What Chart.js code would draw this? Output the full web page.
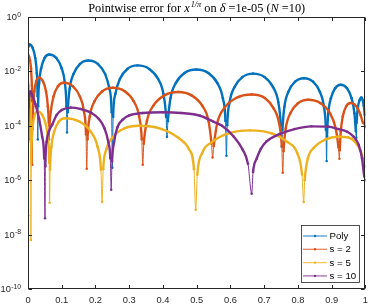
<!DOCTYPE html>
<html><head><meta charset="utf-8">
<script src="https://cdn.jsdelivr.net/npm/chart.js@4.4.1/dist/chart.umd.min.js"></script>
<style>html,body{margin:0;padding:0;background:#fff}#wrap{width:374px;height:306px;position:relative}</style>
</head><body><div id="wrap"><canvas id="c" width="374" height="306"></canvas></div>
<script>
// ---- data (errors stored as log10 values) ----
const seriesLabels = ['Poly', 's = 2', 's = 5', 's = 10'];
const xTickValues = [0, 0.1, 0.2, 0.3, 0.4, 0.5, 0.6, 0.7, 0.8, 0.9, 1];
const yTickValues = [1, 1e-2, 1e-4, 1e-6, 1e-8, 1e-10];

const polyX = [0,0.001,0.004,0.014,0.0215,0.026,0.02825,0.029,
 0.030,0.033,0.039,0.049,0.0625,0.084,0.0997,0.1093,0.1141,0.1157,
 0.1176,0.1233,0.1347,0.1537,0.179,0.2074,0.2287,0.2415,0.2479,0.25,
 0.2522,0.2589,0.2722,0.2944,0.324,0.3592,0.3856,0.4014,0.4094,0.412,
 0.4146,0.4224,0.438,0.4639,0.4985,0.5343,0.5612,0.5773,0.5853,0.588,
 0.5904,0.5975,0.6117,0.6354,0.667,0.701,0.7265,0.7418,0.7494,0.752,
 0.754,0.7599,0.7718,0.7916,0.818,0.8448,0.8649,0.877,0.883,0.885,
 0.8863,0.89,0.8976,0.9102,0.927,0.9454,0.9592,0.9675,0.9716,0.973,
 0.974,0.9775,0.982,0.988,0.992,0.995,0.998,1.0];
const polyLogErr = [-1.20,-1.10,-1.01,-1.14,-1.51,-2.06,-2.91,-4.50,
 -3.28,-2.43,-1.88,-1.51,-1.38,-1.51,-1.88,-2.43,-3.28,-4.25,
 -3.50,-2.65,-2.10,-1.73,-1.60,-1.73,-2.10,-2.65,-3.50,-5.54,
 -3.68,-2.83,-2.28,-1.91,-1.78,-1.91,-2.28,-2.83,-3.68,-4.40,
 -3.83,-2.98,-2.43,-2.06,-1.93,-2.06,-2.43,-2.98,-3.83,-5.10,
 -3.98,-3.13,-2.58,-2.21,-2.08,-2.21,-2.58,-3.13,-3.98,-4.77,
 -4.15,-3.30,-2.75,-2.38,-2.25,-2.38,-2.75,-3.30,-4.15,-5.29,
 -4.39,-3.54,-2.99,-2.62,-2.49,-2.62,-2.99,-3.54,-4.20,-4.44,
 -3.90,-3.35,-3.08,-2.96,-3.05,-3.25,-3.60,-4.03];

const s2X = [0,0.003,0.006,0.009,0.0115,0.0125,0.013,
 0.0136,0.0153,0.0187,0.0244,0.032,0.0442,0.0534,0.0588,0.0616,0.0625,
 0.0638,0.0677,0.0756,0.0886,0.106,0.1332,0.1536,0.1658,0.172,0.174,
 0.1763,0.1832,0.1971,0.2202,0.251,0.2866,0.3133,0.3293,0.3373,0.340,
 0.3432,0.3526,0.3715,0.403,0.445,0.4858,0.5164,0.5348,0.5439,0.547,
 0.5505,0.5609,0.5818,0.6166,0.663,0.7018,0.7274,0.744,0.7522,0.755,
 0.7573,0.764,0.7775,0.8,0.83,0.8672,0.8951,0.9118,0.9202,0.923,
 0.924,0.927,0.9329,0.9428,0.956,0.968,0.978,0.986,0.993,1.0];
const s2LogErr = [-1.38,-1.45,-1.60,-1.90,-2.50,-3.10,-5.43,
 -4.13,-3.28,-2.73,-2.36,-2.23,-2.36,-2.73,-3.28,-3.90,-4.50,
 -4.00,-3.47,-2.92,-2.55,-2.42,-2.55,-2.92,-3.47,-4.32,-5.58,
 -4.50,-3.65,-3.10,-2.73,-2.60,-2.73,-3.10,-3.65,-4.50,-5.43,
 -4.66,-3.81,-3.26,-2.89,-2.76,-2.89,-3.26,-3.81,-4.66,-5.17,
 -4.75,-3.90,-3.35,-2.98,-2.85,-2.98,-3.35,-3.90,-4.75,-5.73,
 -4.94,-4.09,-3.54,-3.17,-3.04,-3.17,-3.54,-4.09,-4.80,-5.21,
 -4.90,-4.21,-3.66,-3.29,-3.16,-3.22,-3.38,-3.62,-3.90,-4.05];

const s5X = [0,0.002,0.004,0.006,0.0075,0.0083,0.0087,
 0.0093,0.011,0.0144,0.020,0.0276,0.0422,0.0531,0.0596,0.0629,0.064,
 0.0654,0.0694,0.0775,0.091,0.109,0.1532,0.1864,0.2062,0.2162,0.2195,
 0.2228,0.2326,0.2524,0.2852,0.329,0.3962,0.4466,0.4768,0.492,0.497,
 0.5018,0.5163,0.5453,0.5936,0.658,0.7226,0.7693,0.7979,0.8122,0.817,
 0.8201,0.8294,0.8479,0.8788,0.92,0.95,0.97,0.985,0.995,1.0];
const s5LogErr = [-2.41,-2.55,-2.80,-3.20,-3.80,-4.60,-8.20,
 -5.37,-4.52,-3.97,-3.60,-3.47,-3.60,-3.97,-4.52,-5.37,-6.83,
 -5.62,-4.77,-4.22,-3.85,-3.72,-3.85,-4.22,-4.77,-5.62,-6.80,
 -5.60,-4.85,-4.40,-4.10,-4.00,-4.12,-4.45,-4.85,-5.60,-7.09,
 -5.80,-5.00,-4.60,-4.28,-4.17,-4.28,-4.60,-5.00,-5.80,-6.80,
 -6.00,-5.20,-4.80,-4.52,-4.40,-4.43,-4.60,-4.90,-5.30,-5.50];

const s10X = [0,0.0005,0.002,0.004,0.007,0.014,0.022,0.033,0.042,0.048,0.0505,
 0.0515,0.055,0.062,0.072,0.085,0.1,0.1265,0.155,0.188,0.21,0.227,0.238,0.244,0.2465,
 0.249,0.255,0.265,0.28,0.30,0.34,0.40,0.455,0.51,0.55,0.575,0.61,0.635,0.652,0.663,
 0.667,0.678,0.69,0.707,0.746,0.79,0.84,0.89,0.92,0.946,0.965,0.98,0.99,0.9965,1.0];
const s10LogErr = [-7.30,-4.50,-3.30,-2.90,-2.74,-2.92,-3.20,-3.75,-4.40,-5.20,-7.40,
 -5.50,-4.60,-4.20,-3.95,-3.60,-3.42,-3.33,-3.38,-3.53,-3.75,-4.10,-4.60,-5.20,-6.35,
 -5.30,-4.60,-4.05,-3.78,-3.62,-3.53,-3.50,-3.53,-3.63,-3.85,-4.00,-4.40,-4.85,-5.40,-6.50,
 -5.70,-5.20,-4.85,-4.57,-4.30,-4.12,-4.02,-4.03,-4.12,-4.22,-4.40,-4.70,-5.20,-5.86,-6.00];

const seriesColors = ['#0072BD', '#D95319', '#EDB120', '#7E2F8E'];

// ---- build datasets ----
const toPoints = (xs, ls) => xs.slice(0, Math.min(xs.length, ls.length)).map((x, i) => ({x: x, y: Math.pow(10, ls[i])}));
const seriesData = [toPoints(polyX, polyLogErr), toPoints(s2X, s2LogErr), toPoints(s5X, s5LogErr), toPoints(s10X, s10LogErr)];

function isDip(data, i) {
  const v = data[i].y, p = data[i - 1], n = data[i + 1];
  return (!p || p.y > v) && (!n || n.y > v);
}

const LW = 2.4;
const datasets = seriesLabels.map((lab, k) => ({
  label: lab,
  data: seriesData[k],
  borderColor: seriesColors[k],
  backgroundColor: seriesColors[k],
  pointBackgroundColor: seriesColors[k],
  pointBorderWidth: 0,
  pointRadius: 1.25,
  pointHoverRadius: 0,
  borderWidth: LW,
  cubicInterpolationMode: 'monotone',
  order: 4 - k,
  segment: {
    borderWidth: c => (isDip(seriesData[k], c.p0DataIndex) || isDip(seriesData[k], c.p1DataIndex)) ? 1 : LW
  }
}));

Chart.defaults.font.family = "'Liberation Sans', Arial, sans-serif";

const decor = {
  id: 'decor',
  afterDraw(chart) {
    const {ctx, chartArea: a, scales: {x, y}} = chart;
    ctx.save();
    const L = Math.round(a.left) + 0.5, R = Math.round(a.right) - 0.5;
    const T = Math.round(a.top) + 0.5, B = Math.round(a.bottom) - 0.5;
    ctx.strokeStyle = '#262626';
    ctx.lineWidth = 1;
    ctx.strokeRect(L, T, R - L, B - T);
    const tl = 3.5;
    ctx.beginPath();
    xTickValues.forEach(v => {
      const px = Math.round(x.getPixelForValue(v)) + 0.5;
      ctx.moveTo(px, B); ctx.lineTo(px, B - tl);
      ctx.moveTo(px, T); ctx.lineTo(px, T + tl);
    });
    yTickValues.forEach(v => {
      const py = Math.round(y.getPixelForValue(v)) + 0.5;
      ctx.moveTo(L, py); ctx.lineTo(L + tl, py);
      ctx.moveTo(R, py); ctx.lineTo(R - tl, py);
    });
    ctx.stroke();

    // y tick labels 10^k
    ctx.fillStyle = '#262626';
    yTickValues.forEach(v => {
      const py = y.getPixelForValue(v);
      const e = String(Math.round(Math.log10(v)));
      ctx.font = "6.8px 'Liberation Sans', Arial, sans-serif";
      const ew = ctx.measureText(e).width;
      const right = 21;
      ctx.textAlign = 'left';
      ctx.textBaseline = 'alphabetic';
      ctx.fillText(e, right - ew, py - 0.5);
      ctx.font = "9.3px 'Liberation Sans', Arial, sans-serif";
      const bw = ctx.measureText('10').width;
      ctx.textBaseline = 'middle';
      ctx.fillText('10', right - ew - bw - 0.3, py + 0.5);
    });

    // title
    const segs = [
      {t: 'Pointwise error for ', s: 'normal'},
      {t: 'x', s: 'italic'},
      {t: '1/\u03c0', s: 'italic', sup: true},
      {t: ' on ', s: 'normal'},
      {t: '\u03b4', s: 'italic'},
      {t: ' =1e-05 (', s: 'normal'},
      {t: 'N', s: 'italic'},
      {t: ' =10)', s: 'normal'}
    ];
    const fs = 12.3, sfs = 8.3;
    const fontOf = sg => `${sg.s === 'italic' ? 'italic ' : ''}${sg.sup ? sfs : fs}px 'Liberation Serif', 'Times New Roman', serif`;
    let tw = 0;
    segs.forEach(sg => { ctx.font = fontOf(sg); sg.w = ctx.measureText(sg.t).width + (sg.sup ? 1 : 0); tw += sg.w; });
    let cx = (a.left + a.right) / 2 - tw / 2;
    const base = 11.8;
    ctx.fillStyle = '#000';
    ctx.textAlign = 'left';
    ctx.textBaseline = 'alphabetic';
    segs.forEach(sg => {
      ctx.font = fontOf(sg);
      ctx.fillText(sg.t, cx + (sg.sup ? 1 : 0), sg.sup ? base - 5 : base);
      cx += sg.w;
    });

    // legend
    const lx0 = 301.5, ly0 = 225.5, lx1 = 359.5, ly1 = 282.5;
    ctx.fillStyle = '#fff';
    ctx.fillRect(lx0, ly0, lx1 - lx0, ly1 - ly0);
    ctx.strokeStyle = '#262626';
    ctx.lineWidth = 0.8;
    ctx.strokeRect(lx0, ly0, lx1 - lx0, ly1 - ly0);
    chart.data.datasets.forEach((ds, k) => {
      const yy = 236 + k * 13.3;
      ctx.strokeStyle = ds.borderColor;
      ctx.globalAlpha = 0.7;
      ctx.lineWidth = 1.3;
      ctx.beginPath(); ctx.moveTo(303, yy); ctx.lineTo(327, yy); ctx.stroke();
      ctx.globalAlpha = 1;
      ctx.fillStyle = ds.borderColor;
      ctx.beginPath(); ctx.arc(315, yy, 1.2, 0, Math.PI * 2); ctx.fill();
      ctx.fillStyle = '#000';
      ctx.font = "9.7px 'Liberation Sans', Arial, sans-serif";
      ctx.textBaseline = 'middle';
      ctx.fillText(ds.label, 329.5, yy + 0.5);
    });
    ctx.restore();
  }
};

new Chart(document.getElementById('c'), {
  type: 'line',
  data: {datasets: datasets},
  options: {
    responsive: false,
    animation: false,
    devicePixelRatio: 1,
    layout: {padding: {left: 28, right: 1, top: 17, bottom: 0}},
    plugins: {legend: {display: false}, tooltip: {enabled: false}, title: {display: false}},
    scales: {
      x: {
        type: 'linear', min: 0, max: 1,
        grid: {display: false, drawTicks: false},
        border: {display: false},
        afterBuildTicks: s => { s.ticks = xTickValues.map(v => ({value: v})); },
        afterFit: s => { s.height = 17; },
        ticks: {
          autoSkip: false, maxRotation: 0, padding: 6, color: '#262626',
          font: {size: 9.3},
          callback: v => String(Number(v.toFixed(1)))
        }
      },
      y: {
        type: 'logarithmic', min: 1e-10, max: 1,
        grid: {display: false, drawTicks: false},
        border: {display: false},
        afterBuildTicks: s => { s.ticks = yTickValues.map(v => ({value: v})); },
        afterFit: s => { s.width = 0; },
        ticks: {display: false}
      }
    }
  },
  plugins: [decor]
});
</script>
</body></html>
